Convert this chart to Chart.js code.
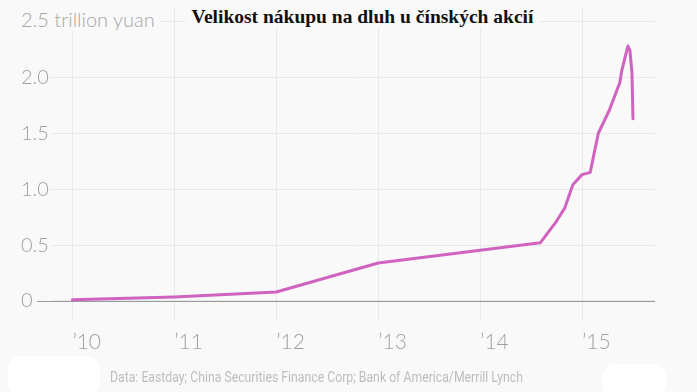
<!DOCTYPE html>
<html>
<head>
<meta charset="utf-8">
<script src="https://cdn.jsdelivr.net/npm/chart.js@4.4.1/dist/chart.umd.min.js"></script>
<style>
  html, body { margin: 0; padding: 0; background: #f9f9f9; }
  #wrap { position: relative; width: 697px; height: 392px; overflow: hidden; }
  #chart { display: block; }
  #title {
    position: absolute; left: 0; width: 725px; top: 6px; text-align: center;
    font: bold 19.5px "Liberation Serif", serif; color: #111;
  }
  #title span { background: #f9f9f9; padding: 0 6px; }
  #unit {
    position: absolute; left: 21px; top: 7px; background: #f9f9f9; padding-right: 5px;
    font: 300 20px Lato, sans-serif; color: #a6a6a6;
  }
  #source {
    position: absolute; left: 110px; top: 369px; transform-origin: left top; transform: scaleX(0.875);
    font: 14px Roboto, sans-serif; color: #bdbdbd; white-space: nowrap;
  }
  .blob { position: absolute; background: #fff; border-radius: 14px; }
</style>
</head>
<body>
<div id="wrap">
  <canvas id="chart" width="697" height="392"></canvas>
  <div id="unit">2.5 trillion yuan</div>
  <div id="title"><span>Velikost nákupu na dluh u čínských akcií</span></div>
  <div id="source">Data: Eastday; China Securities Finance Corp; Bank of America/Merrill Lynch</div>
  <div class="blob" style="left:8px;top:356px;width:92px;height:40px;"></div>
  <div class="blob" style="left:602px;top:364px;width:64px;height:34px;"></div>
</div>
<script>
// margin debt, trillion yuan, by decimal year
const years = [2010.0, 2011.0, 2012.0, 2013.0, 2014.59, 2014.74, 2014.83, 2014.91, 2015.0, 2015.08,
  2015.16, 2015.27, 2015.34, 2015.37, 2015.39, 2015.42, 2015.45, 2015.47, 2015.49, 2015.50];
const margin = [0.01, 0.035, 0.08, 0.34, 0.52, 0.70, 0.83, 1.04, 1.13, 1.15,
  1.50, 1.71, 1.88, 1.95, 2.06, 2.17, 2.28, 2.24, 2.04, 1.63];
const yTicks = [0, 0.5, 1.0, 1.5, 2.0];

const zeroLine = {
  id: 'zeroLine',
  beforeDatasetsDraw(chart) {
    const ctx = chart.ctx;
    const y = Math.round(chart.scales.y.getPixelForValue(0)) + 0.5;
    ctx.save();
    ctx.strokeStyle = '#9a9a9a';
    ctx.lineWidth = 1;
    ctx.beginPath();
    ctx.moveTo(37, y);
    ctx.lineTo(chart.chartArea.right, y);
    ctx.stroke();
    ctx.restore();
  }
};

new Chart(document.getElementById('chart'), {
  type: 'line',
  data: {
    datasets: [{
      data: years.map((x, i) => ({x: x, y: margin[i]})),
      borderColor: '#cf63bf',
      borderWidth: 3,
      pointRadius: 0,
      tension: 0,
      borderJoinStyle: 'round',
      borderCapStyle: 'round'
    }]
  },
  options: {
    responsive: false,
    animation: false,
    layout: {padding: {left: 21, right: 42, top: 8, bottom: 42}},
    plugins: {legend: {display: false}, tooltip: {enabled: false}},
    scales: {
      x: {
        type: 'linear',
        min: 2009.8,
        max: 2015.716,
        afterFit: s => { s.height = 30; s.paddingLeft = 0; s.paddingRight = 0; },
        grid: {color: '#e9e9e9', drawTicks: false},
        border: {display: false},
        ticks: {
          stepSize: 1,
          includeBounds: false,
          align: 'start',
          padding: 10,
          color: '#a0a0a0',
          font: {family: 'Lato', size: 21, weight: 300},
          callback: v => '\u2019' + String(v).slice(2)
        }
      },
      y: {
        min: -0.17,
        max: 2.62,
        afterFit: s => { s.width = 31; s.paddingTop = 0; s.paddingBottom = 0; },
        grid: {color: '#e9e9e9', drawTicks: false},
        border: {display: false},
        ticks: {
          stepSize: 0.5,
          includeBounds: false,
          crossAlign: 'far',
          color: '#a0a0a0',
          font: {family: 'Lato', size: 20, weight: 300},
          callback: v => yTicks.includes(v) ? (v === 0 ? '0' : v.toFixed(1)) : ''
        }
      }
    }
  },
  plugins: [zeroLine]
});
</script>
</body>
</html>
